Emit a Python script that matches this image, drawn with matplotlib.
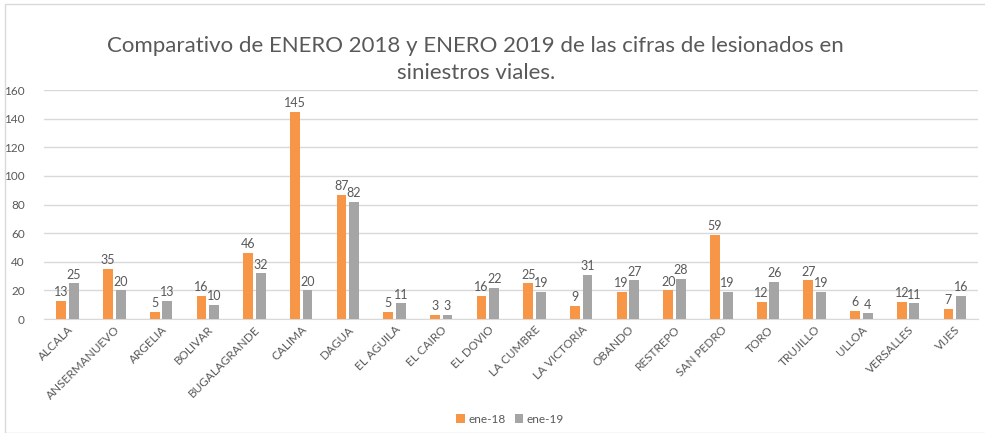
import matplotlib
matplotlib.use("Agg")
import matplotlib.pyplot as plt
import numpy as np
from matplotlib.patches import Rectangle

plt.rcParams['font.family'] = ['Lato', 'DejaVu Sans']

municipios = ['ALCALA', 'ANSERMANUEVO', 'ARGELIA', 'BOLIVAR', 'BUGALAGRANDE', 'CALIMA',
              'DAGUA', 'EL AGUILA', 'EL CAIRO', 'EL DOVIO', 'LA CUMBRE', 'LA VICTORIA',
              'OBANDO', 'RESTREPO', 'SAN PEDRO', 'TORO', 'TRUJILLO', 'ULLOA', 'VERSALLES', 'VIJES']
ene_18 = [13, 35, 5, 16, 46, 145, 87, 5, 3, 16, 25, 9, 19, 20, 59, 12, 27, 6, 12, 7]
ene_19 = [25, 20, 13, 10, 32, 20, 82, 11, 3, 22, 19, 31, 27, 28, 19, 26, 19, 4, 11, 16]

naranja = '#F79646'
gris = '#A5A5A5'
texto = '#595959'

fig = plt.figure(figsize=(9.85, 4.33), dpi=100)
fig.patches.append(Rectangle((5 / 985, 0.0), 1.0, 1 - 4 / 433, transform=fig.transFigure,
                             fill=False, edgecolor='#D9D9D9', linewidth=1))
ax = fig.add_axes([0.045, 0.263, 0.948, 0.529])

x = np.arange(len(municipios))
w = 0.21
b1 = ax.bar(x - w / 2 - 0.03, ene_18, w, color=naranja, label='ene-18', zorder=3)
b2 = ax.bar(x + w / 2 + 0.03, ene_19, w, color=gris, label='ene-19', zorder=3)
ax.bar_label(b1, fontsize=9, color=texto, padding=2)
ax.bar_label(b2, fontsize=9, color=texto, padding=2)

ax.set_ylim(0, 160)
ax.set_yticks(range(0, 161, 20))
ax.set_xlim(-0.5, len(municipios) - 0.5)
ax.grid(axis='y', color='#D9D9D9', linewidth=1, zorder=0)
for s in ['top', 'right', 'left']:
    ax.spines[s].set_visible(False)
ax.spines['bottom'].set_color('#D9D9D9')
ax.tick_params(axis='both', length=0, colors=texto, labelsize=8.5)
ax.tick_params(axis='y', pad=14)
ax.set_xticks(x)
ax.set_xticklabels(municipios, rotation=45, ha='right', rotation_mode='anchor')

fig.text(0.483, 0.863, 'Comparativo de ENERO 2018 y ENERO 2019 de las cifras de lesionados en\nsiniestros viales.',
         ha='center', va='center', fontsize=16, color=texto, linespacing=1.45)

fig.legend(handles=[b1, b2], loc='center', bbox_to_anchor=(0.518, 0.032), ncol=2, frameon=False,
           fontsize=8.5, labelcolor=texto, handlelength=0.7, handleheight=0.7, handletextpad=0.3,
           columnspacing=0.8)

fig.savefig('out.png', dpi=100)
